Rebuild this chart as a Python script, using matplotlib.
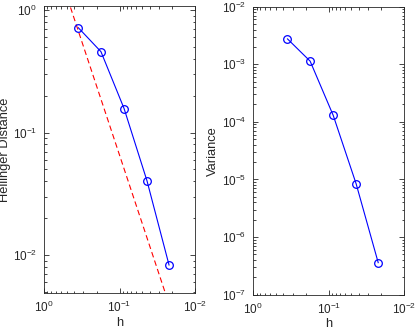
import numpy as np
from matplotlib import pyplot as plt

# Values
h = [0.351, 0.176, 0.087, 0.0433, 0.0221]
hellinger = [0.717, 0.457, 0.157, 0.0404, 0.0083]
variance = [2.75e-3, 1.13e-3, 1.29e-4, 8.4e-6, 3.6e-7]
ref_h = [0.5, 0.02]           # red dashed reference line end points
ref_dist = [1.3, 0.0033]

plt.rcParams['font.family'] = ['Liberation Sans', 'DejaVu Sans']
plt.rcParams['font.size'] = 8.5
plt.rcParams['axes.edgecolor'] = '#262626'
plt.rcParams['xtick.color'] = '#262626'
plt.rcParams['ytick.color'] = '#262626'

fig = plt.figure(figsize=(4.15, 3.30), dpi=100)
ax1 = fig.add_axes([0.106, 0.112, 0.364, 0.870])
ax2 = fig.add_axes([0.610, 0.107, 0.364, 0.873])

ax1.loglog(ref_h, ref_dist, '--', color='red', lw=0.8, dashes=(5, 3))
ax1.loglog(h, hellinger, '-o', color='blue', lw=0.8, ms=5.5, mfc='none', mew=0.9)
ax1.set_ylim(0.0049, 1.08)
ax1.set_ylabel('Hellinger Distance', fontsize=9.3, labelpad=1, color='#262626')

ax2.loglog(h, variance, '-o', color='blue', lw=0.8, ms=5.5, mfc='none', mew=0.9)
ax2.set_ylim(1e-7, 1e-2)
ax2.set_ylabel('Variance', fontsize=9.3, labelpad=2, color='#262626')

for ax in (ax1, ax2):
    ax.set_xlim(1, 0.01)
    ax.set_xlabel('h', fontsize=9.3, labelpad=1, color='#262626')
    ax.tick_params(which='both', direction='in', top=True, right=True, width=0.6)
    ax.tick_params(which='major', length=3.5)
    ax.tick_params(which='minor', length=1.8)
    ax.tick_params(axis='x', pad=5)
    ax.tick_params(axis='y', pad=5)
    for s in ax.spines.values():
        s.set_linewidth(0.6)

plt.savefig('out.png', dpi=100)
